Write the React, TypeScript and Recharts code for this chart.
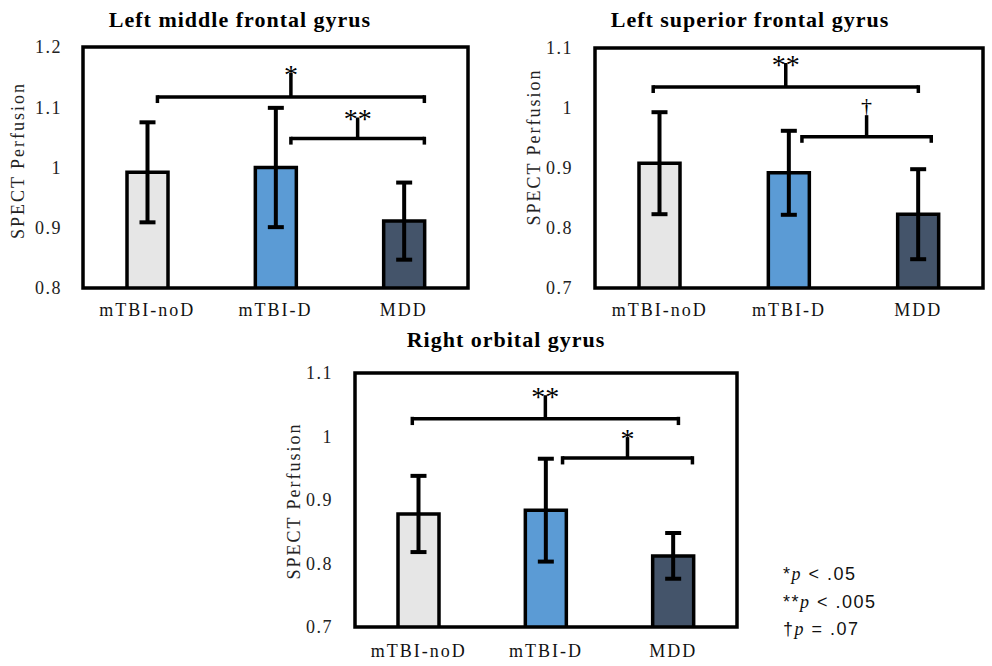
import React from 'react';
import { BarChart, Bar, XAxis, YAxis, ErrorBar, Cell, ReferenceLine, ReferenceArea } from 'recharts';

const categories = ['mTBI-noD', 'mTBI-D', 'MDD'];
const positions = [0.5, 1.5, 2.5];
const barColors = ['#e6e6e6', '#5b9bd5', '#44546a'];

const lmfgMeans = [0.992, 1.0, 0.911];
const lmfgErrors = [0.083, 0.099, 0.064];
const lsfgMeans = [0.908, 0.892, 0.823];
const lsfgErrors = [0.085, 0.07, 0.075];
const rogMeans = [0.878, 0.884, 0.812];
const rogErrors = [0.06, 0.081, 0.036];

const ticksHigh = [0.8, 0.9, 1, 1.1, 1.2];
const ticksLow = [0.7, 0.8, 0.9, 1, 1.1];

const lmfgBrackets = [
  { from: 0.58, to: 2.66, y: 1.117, top: 1.157, mark: '*' },
  { from: 1.62, to: 2.66, y: 1.048, top: 1.083, mark: '**' },
];
const lsfgBrackets = [
  { from: 0.45, to: 2.5, y: 1.035, top: 1.075, mark: '**' },
  { from: 1.6, to: 2.6, y: 0.952, top: 0.988, mark: '†' },
];
const rogBrackets = [
  { from: 0.45, to: 2.54, y: 1.028, top: 1.065, mark: '**' },
  { from: 1.63, to: 2.65, y: 0.966, top: 0.999, mark: '*' },
];

const legendLines = [
  { mark: '*', text: ' < .05' },
  { mark: '**', text: ' < .005' },
  { mark: '†', text: ' = .07' },
];

const SERIF = '"Liberation Serif", "Times New Roman", serif';

type Bracket = { from: number; to: number; y: number; top: number; mark: string };

type ChartProps = {
  left: number;
  top: number;
  width: number;
  height: number;
  margin: { top: number; right: number; bottom: number; left: number };
  yAxisWidth: number;
  yTickMargin: number;
  xTickMargin: number;
  domain: [number, number];
  ticks: number[];
  means: number[];
  errors: number[];
  brackets: Bracket[];
  labelDx: number;
  labelDy: number;
};

function GyrusChart(p: ChartProps) {
  const data = categories.map((c, i) => ({ name: c, pos: positions[i], mean: p.means[i], err: p.errors[i] }));
  const hook = 0.01;
  return (
    <div style={{ position: 'absolute', left: p.left, top: p.top }}>
      <BarChart width={p.width} height={p.height} margin={p.margin} data={data}>
        <XAxis
          dataKey="pos"
          type="number"
          domain={[0, 3]}
          ticks={positions}
          interval={0}
          allowDataOverflow
          tickFormatter={(v: number) => categories[positions.indexOf(v)] ?? ''}
          axisLine={false}
          tickLine={false}
          tickSize={0}
          tickMargin={p.xTickMargin}
          tick={{ fontFamily: SERIF, fontSize: 18, fill: '#111', letterSpacing: 2 }}
          height={30}
        />
        <YAxis
          type="number"
          domain={p.domain}
          ticks={p.ticks}
          interval={0}
          allowDataOverflow
          width={p.yAxisWidth}
          axisLine={false}
          tickLine={false}
          tickSize={0}
          tickMargin={p.yTickMargin}
          tickFormatter={(v: number) => String(Math.round(v * 10) / 10)}
          tick={{ fontFamily: SERIF, fontSize: 18, fill: '#222', letterSpacing: 1.5 }}
          label={{
            content: (props: any) => {
              const vb = props.viewBox || {};
              const cx = vb.x + vb.width / 2 + p.labelDx;
              const cy = vb.y + vb.height / 2 + p.labelDy;
              return (
                <text
                  x={cx}
                  y={cy}
                  transform={`rotate(-90 ${cx} ${cy})`}
                  textAnchor="middle"
                  dominantBaseline="central"
                  fontFamily={SERIF}
                  fontSize={18}
                  letterSpacing={2}
                  fill="#222"
                >
                  SPECT Perfusion
                </text>
              );
            },
          }}
        />
        <ReferenceArea
          x1={0}
          x2={3}
          y1={p.domain[0]}
          y2={p.domain[1]}
          fill="none"
          stroke="#000"
          strokeWidth={3.5}
          ifOverflow="visible"
        />
        <Bar dataKey="mean" barSize={41} stroke="#000" strokeWidth={3.5} isAnimationActive={false}>
          {data.map((d, i) => (
            <Cell key={d.name} fill={barColors[i]} />
          ))}
          <ErrorBar dataKey="err" width={8} stroke="#000" strokeWidth={4} direction="y" isAnimationActive={false} />
        </Bar>
        {p.brackets.map((b, i) => {
          const mid = (b.from + b.to) / 2;
          const isDagger = b.mark === '†';
          return (
            <React.Fragment key={i}>
              <ReferenceLine
                segment={[{ x: b.from, y: b.y }, { x: b.to, y: b.y }]}
                stroke="#000"
                strokeWidth={3.5}
                ifOverflow="visible"
              />
              <ReferenceLine
                segment={[{ x: b.from, y: b.y + 0.003 }, { x: b.from, y: b.y - hook }]}
                stroke="#000"
                strokeWidth={3.5}
                ifOverflow="visible"
              />
              <ReferenceLine
                segment={[{ x: b.to, y: b.y + 0.003 }, { x: b.to, y: b.y - hook }]}
                stroke="#000"
                strokeWidth={3.5}
                ifOverflow="visible"
              />
              <ReferenceLine
                segment={[{ x: mid, y: b.y }, { x: mid, y: b.top }]}
                stroke="#000"
                strokeWidth={3.5}
                ifOverflow="visible"
                label={{
                  value: b.mark,
                  position: 'top',
                  offset: isDagger ? 2 : -11,
                  fontSize: isDagger ? 22 : 28,
                  fill: '#000',
                  fontFamily: SERIF,
                }}
              />
            </React.Fragment>
          );
        })}
      </BarChart>
    </div>
  );
}

const titleStyle: React.CSSProperties = {
  position: 'absolute',
  fontFamily: SERIF,
  fontWeight: 'bold',
  fontSize: 22,
  letterSpacing: 1,
  whiteSpace: 'nowrap',
  transform: 'translate(-50%, -50%)',
  color: '#000',
  lineHeight: '26px',
};

export default function App() {
  return (
    <div style={{ position: 'absolute', left: 0, top: 0, width: 992, height: 666, background: '#fff', overflow: 'hidden' }}>
      <div style={{ ...titleStyle, left: 240, top: 20 }}>Left middle frontal gyrus</div>
      <div style={{ ...titleStyle, left: 750, top: 20 }}>Left superior frontal gyrus</div>
      <div style={{ ...titleStyle, left: 506, top: 340 }}>Right orbital gyrus</div>

      <GyrusChart
        left={0}
        top={0}
        width={480}
        height={330}
        margin={{ top: 47, right: 12, bottom: 12, left: 0 }}
        yAxisWidth={83}
        yTickMargin={21}
        xTickMargin={15}
        domain={[0.8, 1.2]}
        ticks={ticksHigh}
        means={lmfgMeans}
        errors={lmfgErrors}
        brackets={lmfgBrackets}
        labelDx={-24}
        labelDy={-7}
      />
      <GyrusChart
        left={500}
        top={0}
        width={492}
        height={330}
        margin={{ top: 48, right: 9, bottom: 12, left: 0 }}
        yAxisWidth={95}
        yTickMargin={22}
        xTickMargin={15}
        domain={[0.7, 1.1]}
        ticks={ticksLow}
        means={lsfgMeans}
        errors={lsfgErrors}
        brackets={lsfgBrackets}
        labelDx={-14}
        labelDy={-21}
      />
      <GyrusChart
        left={260}
        top={340}
        width={490}
        height={326}
        margin={{ top: 33, right: 13, bottom: 9, left: 0 }}
        yAxisWidth={95}
        yTickMargin={22}
        xTickMargin={17}
        domain={[0.7, 1.1]}
        ticks={ticksLow}
        means={rogMeans}
        errors={rogErrors}
        brackets={rogBrackets}
        labelDx={-14}
        labelDy={1}
      />

      <div
        style={{
          position: 'absolute',
          left: 783,
          top: 561,
          fontFamily: '"Liberation Sans", Arial, sans-serif',
          fontSize: 18,
          lineHeight: '27.5px',
          letterSpacing: 1.5,
          color: '#111',
          whiteSpace: 'nowrap',
        }}
      >
        {legendLines.map((l, i) => (
          <div key={i}>
            {l.mark}
            <i style={{ fontFamily: SERIF }}>p</i>
            {l.text}
          </div>
        ))}
      </div>
    </div>
  );
}
